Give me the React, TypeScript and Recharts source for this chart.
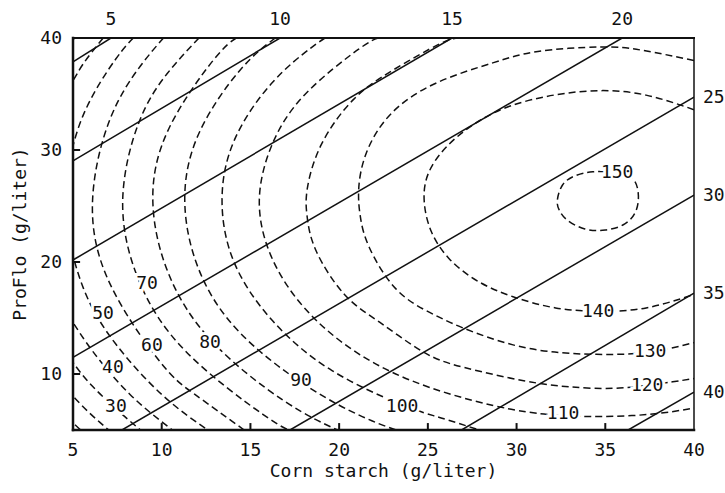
import { ComposedChart, Line, Scatter, XAxis, YAxis, Label, ReferenceLine } from "recharts";

const FONT = "'DejaVu Sans Mono', monospace";
const INK = "#111";

// axes
const xTicks = [5, 10, 15, 20, 25, 30, 35, 40];
const yTicks = [10, 20, 30, 40];
// inward tick marks, length in axis units
const xTickLen = 0.62;
const yTickLen = 0.4;

// solid lines (labelled at the top / right edge), end points as [corn starch, ProFlo]
const lineLabels = [5, 10, 15, 20, 25, 30, 35, 40];
const lineStarts = [[5, 37.86], [5, 29.02], [5, 20.18], [5, 11.49], [7.76, 5], [17.23, 5], [26.9, 5], [36.29, 5]];
const lineEnds = [[7.14, 40], [16.67, 40], [26.36, 40], [35.95, 40], [40, 34.73], [40, 25.98], [40, 17.23], [40, 8.39]];

// dashed contours (points outside the frame get clipped)
const c10 = [[3.8, 7.55], [5.5, 4.9], [7.35, 2.45]];
const c20 = [[3.5, 10.9], [4.9, 8.2], [6.5, 5.7], [8.35, 3.3]];
const c30 = [[5.3, 40.4], [4.8, 39.35], [2.8, 33.9], [1.7, 25.4], [2.8, 16.9], [4.8, 11.45], [6.1, 8.9], [7.7, 6.5], [9.4, 4.2]];
const c40 = [[6.7, 40], [5.6, 37.75], [5.0, 36.2], [4.2, 33.6], [3.1, 25.4], [4.2, 17.2], [5.0, 14.6], [6.1, 12.05], [8.2, 8.2], [10.6, 5.0]];
const c50 = [[8.4, 40], [7.4, 38.1], [5.6, 33.2], [4.7, 28.0], [4.6, 25.4], [4.7, 22.8], [5.6, 17.6], [7.4, 12.7], [10.05, 8.1], [12.6, 5.0]];
const c60 = [[10.1, 40], [8.8, 37.5], [7.1, 32.8], [6.1, 25.4], [7.1, 18.0], [9.9, 11.1], [11.85, 8.2], [14.65, 5.0]];
const c70 = [[12.1, 40], [10.3, 36.8], [8.7, 32.4], [7.8, 25.4], [8.7, 18.4], [11.4, 11.95], [15.7, 6.4], [17.2, 5.0]];
const c80 = [[14.2, 40], [12.9, 38.0], [10.4, 31.9], [9.5, 25.4], [10.4, 18.9], [12.9, 12.8], [16.9, 7.6], [19.9, 5.0]];
const c90 = [[16.4, 40], [14.4, 37.1], [12.1, 31.5], [11.3, 25.4], [12.1, 19.3], [14.4, 13.7], [18.2, 8.9], [21.3, 6.2], [23.2, 5.0]];
const c100 = [[19.2, 40], [18.4, 39.1], [16.25, 36.05], [14.1, 30.9], [13.4, 25.4], [14.1, 19.9], [16.25, 14.75], [19.6, 10.3], [23.55, 7.25], [25.7, 6.1], [27.9, 5.0]];
const c110 = [[22.2, 40], [21.1, 39.0], [18.1, 35.0], [16.2, 30.4], [15.5, 25.4], [16.2, 20.4], [18.1, 15.8], [21.1, 11.8], [25.1, 8.8], [29.7, 6.85], [32.6, 6.3], [34.7, 6.2], [37.5, 6.4], [40, 6.95]];
const c120 = [[26.8, 40], [25.7, 39.5], [23.0, 37.1], [20.8, 34.5], [19.0, 30.5], [18.2, 26.5], [18.2, 24.0], [18.7, 21.0], [20.3, 17.1], [22.3, 14.6], [24.7, 12.0], [27.0, 10.6], [30.4, 9.4], [33.0, 8.85], [35.8, 8.75], [38.8, 9.3], [40, 9.6]];
const c130 = [[40, 38.0], [37.1, 38.9], [34.7, 39.2], [31.2, 38.8], [28.7, 37.8], [25.5, 36.0], [22.9, 33.2], [21.5, 29.6], [21.1, 26.4], [21.2, 24.0], [21.7, 21.3], [23.2, 17.6], [25.1, 15.5], [27.0, 14.1], [29.8, 12.6], [32.5, 11.9], [35.0, 11.75], [37.5, 11.95], [40, 12.8]];
const c140 = [[40, 33.6], [37.3, 34.9], [34.7, 35.3], [32.1, 34.9], [29.6, 33.9], [27.6, 32.3], [26.0, 30.2], [25.0, 27.8], [24.8, 25.3], [25.2, 22.7], [26.2, 20.3], [27.8, 18.3], [29.8, 16.9], [32.2, 15.9], [34.7, 15.6], [37.3, 15.9], [40, 17.1]];
const c150 = [[35.6, 28.05], [36.5, 27.5], [36.85, 26.25], [36.75, 24.65], [36.1, 23.4], [35.0, 22.85], [33.85, 22.95], [32.85, 23.75], [32.4, 24.65], [32.3, 25.55], [32.6, 26.9], [33.3, 27.7], [34.3, 28.05], [35.6, 28.05]];

const contours = [c10, c20, c30, c40, c50, c60, c70, c80, c90, c100, c110, c120, c130, c140, c150];

// in-line contour labels
const labelText = ["30", "40", "50", "60", "70", "80", "90", "100", "110", "120", "130", "140", "150"];
const labelX = [7.42, 7.25, 6.69, 9.45, 9.17, 12.72, 17.85, 23.55, 32.62, 37.36, 37.53, 34.6, 35.67];
const labelY = [7.23, 10.63, 15.45, 12.59, 18.13, 12.86, 9.55, 7.23, 6.52, 9.02, 12.14, 15.71, 28.04];

const toPoints = (pts: number[][]) => pts.map(([x, y]) => ({ x, y }));

const topTicks = lineEnds.filter((p) => p[1] === 40).map((p) => p[0]);
const rightTicks = lineEnds.filter((p) => p[0] === 40).map((p) => p[1]);
const topText = (v: number) => String(lineLabels[topTicks.indexOf(v)]);
const rightText = (v: number) => String(lineLabels[topTicks.length + rightTicks.indexOf(v)]);

const labelData = labelText.map((t, i) => ({ x: labelX[i], y: labelY[i], label: t }));

const tickStyle = { fill: INK, fontSize: 18, fontFamily: FONT };

const ContourLabel = (props: any) => (
  <text
    x={props.cx}
    y={props.cy}
    dy={6.5}
    textAnchor="middle"
    fontSize={18}
    fontFamily={FONT}
    fill={INK}
    stroke="#fff"
    strokeWidth={6}
    paintOrder="stroke"
  >
    {props.payload.label}
  </text>
);

export default function App() {
  return (
    <div style={{ position: "absolute", left: 0, top: 0, background: "#fff" }}>
      <ComposedChart width={725} height={493} margin={{ top: 0, right: 0, bottom: 0, left: 0 }}>
        <XAxis
          xAxisId="bottom"
          dataKey="x"
          type="number"
          domain={[5, 40]}
          allowDataOverflow
          ticks={xTicks}
          interval={0}
          height={63}
          tickSize={0}
          tickMargin={13}
          tick={tickStyle}
          tickLine={false}
          axisLine={{ stroke: INK, strokeWidth: 2.5, strokeLinecap: "square" }}
        >
          <Label
            value="Corn starch (g/liter)"
            position="insideBottom"
            offset={16}
            style={{ fill: INK, fontSize: 18, fontFamily: FONT }}
          />
        </XAxis>
        <XAxis
          xAxisId="top"
          orientation="top"
          dataKey="x"
          type="number"
          domain={[5, 40]}
          allowDataOverflow
          ticks={topTicks}
          interval={0}
          height={38}
          tickSize={0}
          tickMargin={13}
          tickFormatter={topText}
          tick={tickStyle}
          tickLine={false}
          axisLine={{ stroke: INK, strokeWidth: 2, strokeLinecap: "square" }}
        />
        <YAxis
          yAxisId="left"
          dataKey="y"
          type="number"
          domain={[5, 40]}
          allowDataOverflow
          ticks={yTicks}
          interval={0}
          width={73}
          tickSize={0}
          tickMargin={11}
          tick={tickStyle}
          tickLine={false}
          axisLine={{ stroke: INK, strokeWidth: 2.5, strokeLinecap: "square" }}
        >
          <Label
            value="ProFlo (g/liter)"
            position="insideLeft"
            angle={-90}
            offset={20}
            style={{ fill: INK, fontSize: 18, fontFamily: FONT, textAnchor: "middle" }}
          />
        </YAxis>
        <YAxis
          yAxisId="right"
          orientation="right"
          type="number"
          domain={[5, 40]}
          allowDataOverflow
          ticks={rightTicks}
          interval={0}
          width={31}
          tickSize={0}
          tickMargin={9}
          tickFormatter={rightText}
          tick={tickStyle}
          tickLine={false}
          axisLine={{ stroke: INK, strokeWidth: 1.5, strokeLinecap: "square" }}
        />

        {xTicks.slice(1, -1).map((t) => (
          <ReferenceLine
            key={`xt-${t}`}
            xAxisId="bottom"
            yAxisId="left"
            segment={[{ x: t, y: 5 }, { x: t, y: 5 + xTickLen }]}
            stroke={INK}
            strokeWidth={2}
          />
        ))}
        {yTicks.slice(0, -1).map((t) => (
          <ReferenceLine
            key={`yt-${t}`}
            xAxisId="bottom"
            yAxisId="left"
            segment={[{ x: 5, y: t }, { x: 5 + yTickLen, y: t }]}
            stroke={INK}
            strokeWidth={2}
          />
        ))}

        {lineLabels.map((c, i) => (
          <Line
            key={`cost-${c}`}
            xAxisId="bottom"
            yAxisId="left"
            data={toPoints([lineStarts[i], lineEnds[i]])}
            dataKey="y"
            type="linear"
            stroke={INK}
            strokeWidth={1.5}
            dot={false}
            activeDot={false}
            isAnimationActive={false}
          />
        ))}

        {contours.map((pts, i) => (
          <Line
            key={`contour-${i}`}
            xAxisId="bottom"
            yAxisId="left"
            data={toPoints(pts)}
            dataKey="y"
            type="natural"
            stroke={INK}
            strokeWidth={1.5}
            strokeDasharray="7 4"
            dot={false}
            activeDot={false}
            isAnimationActive={false}
          />
        ))}

        <Scatter
          xAxisId="bottom"
          yAxisId="left"
          data={labelData}
          dataKey="y"
          shape={ContourLabel}
          isAnimationActive={false}
        />
      </ComposedChart>
    </div>
  );
}
